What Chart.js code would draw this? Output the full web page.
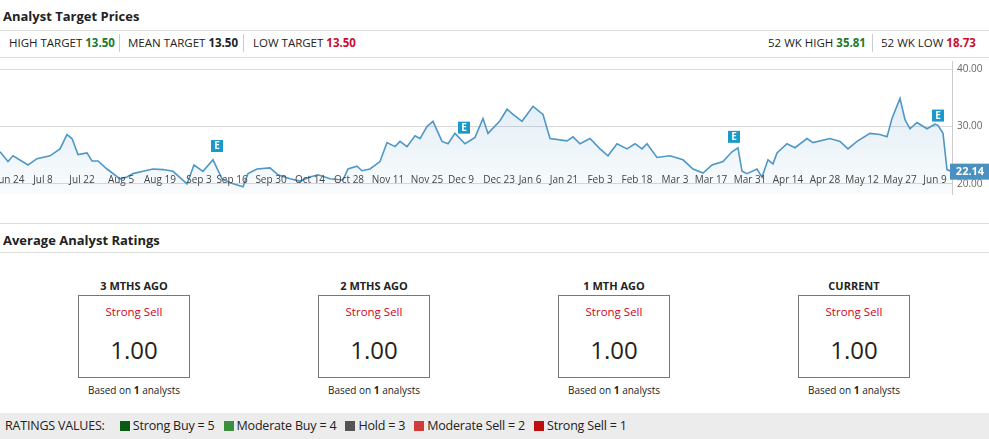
<!DOCTYPE html>
<html><head><meta charset="utf-8">
<script src="https://cdn.jsdelivr.net/npm/chart.js@4/dist/chart.umd.min.js"></script>
<style>
body{margin:0;width:989px;height:439px;overflow:hidden;font-family:"Open Sans",sans-serif;background:#fff;position:relative;color:#222}
.abs{position:absolute;white-space:nowrap}
.h{font-weight:700;font-size:13px}
.hr{position:absolute;left:0;width:989px;height:1px;background:#ddd}
.t{font-size:11.5px;top:35px}
.g{color:#1d7a2e;font-weight:700}.r{color:#c8102e;font-weight:700}
.sep{position:absolute;top:34px;width:1px;height:18px;background:#ccc}
.col{position:absolute;top:278px;width:160px;text-align:center}
.col .hd{font-weight:700;font-size:11px}
.col .box{margin:2px auto 0;width:110px;height:81px;border:1px solid #777;position:relative}
.col .ss{color:#d0021b;font-size:11.5px;margin-top:8px}
.col .v{font-size:24px;margin-top:14px}
.col .b{font-size:10px;margin-top:5px}
.foot{position:absolute;left:0;top:413px;width:989px;height:26px;background:#ececec;font-size:12.5px;letter-spacing:-0.2px}
.sq{display:inline-block;width:10px;height:10px;margin:0 3px 0 6px;vertical-align:-1px}
</style></head><body>
<div class="abs h" style="left:3px;top:7px">Analyst Target Prices</div>
<div class="hr" style="top:30px"></div>
<div class="abs t" style="left:9px">HIGH TARGET <span class="g">13.50</span></div>
<div class="sep" style="left:119px"></div>
<div class="abs t" style="left:128px">MEAN TARGET <b>13.50</b></div>
<div class="sep" style="left:243px"></div>
<div class="abs t" style="left:253px">LOW TARGET <span class="r">13.50</span></div>
<div class="abs t" style="left:768px">52 WK HIGH <span class="g">35.81</span></div>
<div class="sep" style="left:872px"></div>
<div class="abs t" style="left:881px">52 WK LOW <span class="r">18.73</span></div>
<div class="hr" style="top:57px"></div>
<div class="abs" style="left:0;top:50px;width:989px;height:155px"><canvas id="c"></canvas></div>
<div class="hr" style="top:223px"></div>
<div class="abs h" style="left:3px;top:231px">Average Analyst Ratings</div>
<div class="hr" style="top:252px"></div>
<div id="cols"></div>
<div class="foot"><span style="margin-left:5px;line-height:26px">RATINGS VALUES:</span>&nbsp;&nbsp;
<span class="sq" style="background:#0b5a14"></span>Strong Buy = 5
<span class="sq" style="background:#3a8f3e"></span>Moderate Buy = 4
<span class="sq" style="background:#555"></span>Hold = 3
<span class="sq" style="background:#d23b3b"></span>Moderate Sell = 2
<span class="sq" style="background:#c00d0d"></span>Strong Sell = 1</div>
<script>
const xPos=[0,8,13,28,37,50,60,67,72,78,87,92,98,107,120,127,133,143,153,163,173,187,194,203,213,222,230,243,248,257,270,278,290,300,310,318,330,343,348,357,362,370,380,387,395,400,407,415,420,427,433,442,448,455,465,475,483,488,500,507,513,522,533,543,550,567,573,580,590,600,608,617,627,635,642,647,657,670,683,693,703,712,723,732,738,742,747,757,762,768,773,777,787,795,807,813,830,840,848,857,870,880,887,892,900,905,910,917,927,935,938,943,947,952];
const prices=[25.6,23.9,24.9,23.3,24.4,24.9,26.1,28.6,27.9,25.1,25.4,24.0,24.0,22.6,20.9,21.2,21.8,22.2,22.6,22.5,22.2,20.0,23.3,22.2,24.2,20.9,20.2,19.5,21.8,22.6,22.8,21.6,20.9,20.5,21.2,21.6,20.9,20.7,22.6,23.1,22.3,22.6,23.9,27.2,26.5,27.4,26.5,28.4,27.9,30.0,30.9,27.4,27.0,28.8,27.0,28.1,31.4,28.8,31.0,33.0,32.1,30.9,33.5,32.1,27.9,27.5,28.2,27.0,27.9,26.1,24.9,27.0,26.1,27.0,26.1,27.0,24.6,24.9,24.2,22.6,21.9,23.3,23.9,25.6,26.3,22.2,21.8,22.6,21.2,24.2,23.5,25.4,27.0,26.3,27.9,27.2,27.9,27.4,26.1,27.4,28.8,28.6,28.2,31.4,34.9,31.2,29.6,30.7,29.6,30.4,30.2,28.8,22.5,22.14];
const tickLabels=["Jun 24","Jul 8","Jul 22","Aug 5","Aug 19","Sep 3","Sep 16","Sep 30","Oct 14","Oct 28","Nov 11","Nov 25","Dec 9","Dec 23","Jan 6","Jan 21","Feb 3","Feb 18","Mar 3","Mar 17","Mar 31","Apr 14","Apr 28","May 12","May 27","Jun 9"];
const tickPos=[10,43,82,121,160,199,232,271,310,349,388,427,461,499,530,564,600,637,675,711,750,788,825,862,900,935];
const yTicks=[20,30,40];
const eventX=[217,464,734,938];
const eventY=[26.6,29.8,28.2,31.9];
const lastPrice="22.14";
const ratingCols=["3 MTHS AGO","2 MTHS AGO","1 MTH AGO","CURRENT"];
const ratingText=["Strong Sell","Strong Sell","Strong Sell","Strong Sell"];
const ratingVals=["1.00","1.00","1.00","1.00"];
const analysts=[1,1,1,1];
const colCenters=[134,374,614,854];
document.getElementById('cols').innerHTML=ratingCols.map((h,i)=>`<div class="col" style="left:${colCenters[i]-80}px"><div class="hd">${h}</div><div class="box"><div class="ss">${ratingText[i]}</div><div class="v">${ratingVals[i]}</div></div><div class="b">Based on <b>${analysts[i]}</b> analysts</div></div>`).join('');

const overlay={id:'overlay',afterDraw(ch){
  const c=ch.ctx,x=ch.scales.x,y=ch.scales.y;
  c.save();
  c.font='10px "Open Sans"';c.fillStyle='#444';c.textAlign='center';c.textBaseline='middle';
  tickLabels.forEach((l,i)=>c.fillText(l,x.getPixelForValue(tickPos[i]),130));
  c.font='bold 10px "Open Sans"';
  eventX.forEach((ex,i)=>{const px=x.getPixelForValue(ex),py=y.getPixelForValue(eventY[i]);
    c.fillStyle='#1a9ac8';c.fillRect(px-6,py-6,12,12);c.fillStyle='#fff';c.fillText('E',px,py+0.5);});
  const py=y.getPixelForValue(22.14);
  c.fillStyle='#4a90c0';c.fillRect(950,py-8,39,16);
  c.fillStyle='#fff';c.font='bold 11px "Open Sans"';c.fillText(lastPrice,970,py+0.5);
  c.restore();
}};
new Chart(document.getElementById('c'),{
  type:'line',
  data:{datasets:[{data:xPos.map((v,i)=>({x:v,y:prices[i]})),borderColor:'#4f97c6',borderWidth:1.6,pointRadius:0,tension:0,
    fill:'start',backgroundColor:(ctx)=>{const a=ctx.chart.chartArea;if(!a)return 'rgba(79,151,198,0.1)';const g=ctx.chart.ctx.createLinearGradient(0,a.top,0,a.bottom);g.addColorStop(0,'rgba(79,151,198,0.22)');g.addColorStop(1,'rgba(79,151,198,0.03)');return g;}}]},
  options:{responsive:true,maintainAspectRatio:false,animation:false,
    layout:{padding:0},
    plugins:{legend:{display:false},tooltip:{enabled:false}},
    scales:{
      x:{type:'linear',min:0,max:952,display:false},
      y:{position:'right',min:18.25,max:41.4,afterBuildTicks:s=>{s.ticks=yTicks.map(v=>({value:v}));},
        afterFit:s=>{s.width=37;},
        grid:{color:'#d8d8d8',drawTicks:false},border:{color:'#ccc'},
        ticks:{color:'#666',font:{size:10,family:'Open Sans'},padding:5,callback:v=>v.toFixed(2)}}
    }},
  plugins:[overlay]
});
</script></body></html>
